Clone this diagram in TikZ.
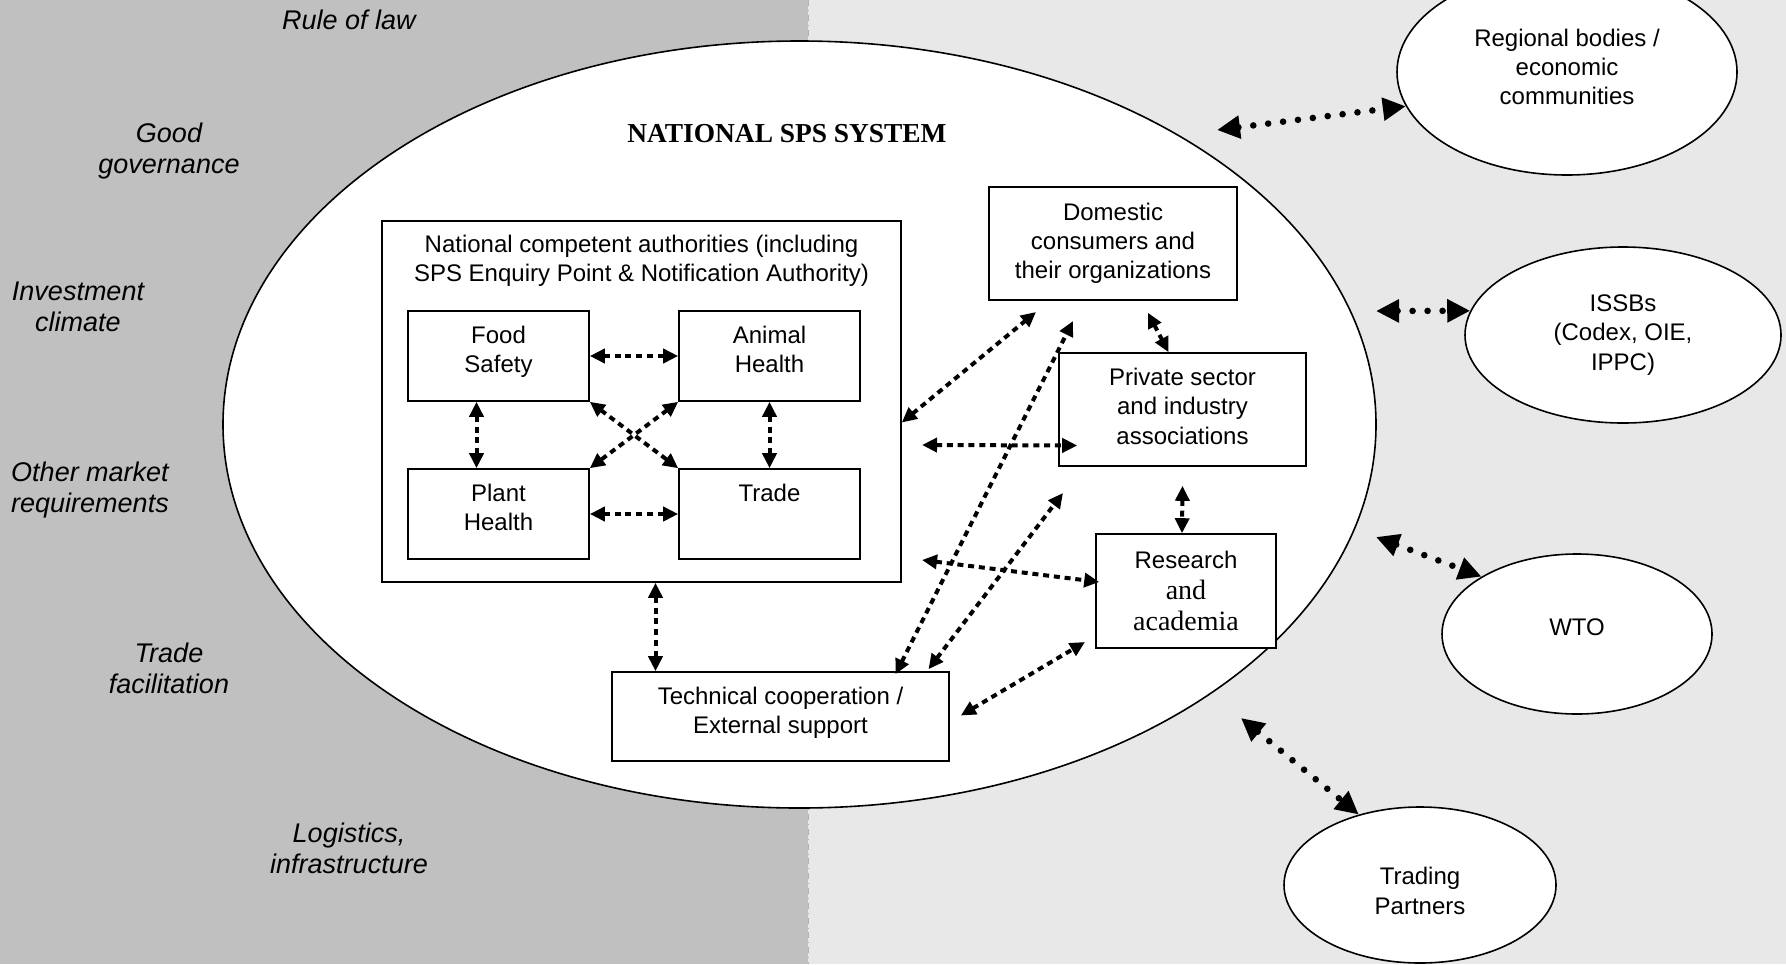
\documentclass[tikz,border=0pt]{standalone}
\usepackage{fontspec}
\setmainfont{Liberation Serif}
\setsansfont{Liberation Sans}
\usetikzlibrary{arrows.meta,shapes.geometric,positioning,calc}

\definecolor{leftgray}{RGB}{192,192,192}
\definecolor{rightgray}{RGB}{232,232,232}

\newcommand{\boxfont}{\sffamily\fontsize{12}{14.6}\selectfont}
\newcommand{\sidefont}{\sffamily\itshape\fontsize{13.5}{15.4}\selectfont}
\newcommand{\serifpart}{\rmfamily\fontsize{14}{15.7}\selectfont}
% invisible rules to move a text up (depth) or down (height) in its box
\newcommand{\deep}[1]{\rule[-#1]{0pt}{#1}}
\newcommand{\tall}[1]{\rule{0pt}{#1}}

\tikzset{
  box/.style={draw, line width=0.8pt, fill=white, inner sep=0pt, align=center, font=\boxfont},
  oval/.style={ellipse, draw, line width=0.8pt, fill=white, inner sep=0pt, align=center, font=\boxfont},
  side/.style={align=center, font=\sidefont},
  inlink/.style={line width=2pt, dash pattern=on 3pt off 2.4pt,
    {Triangle[length=7.5pt,width=7pt]}-{Triangle[length=7.5pt,width=7pt]}},
  outlink/.style={line width=3.3pt, line cap=round, dash pattern=on 0pt off 7.5pt,
    {Triangle[length=11.5pt,width=11pt]}-{Triangle[length=11.5pt,width=11pt]}}
}

\begin{document}
\begin{tikzpicture}[x=0.5pt, y=-0.5pt]
\useasboundingbox (0,0) rectangle (1786,964);
% background halves
\fill[leftgray] (0,0) rectangle (808,964);
\fill[rightgray] (808,0) rectangle (1786,964);
\draw[gray!60, dash dot] (808,0) -- (808,964);

% environment factors
\node[side] (law) at (349,20) {Rule of law};
\node[side] (gov) at (169,151) {Good\\governance};
\node[side] (invest) at (78,307) {Investment\\climate};
\node[side] (market) at (90,490) {Other market\\requirements};
\node[side] (facil) at (169,668) {Trade\\facilitation};
\node[side] (logist) at (349,848) {Logistics,\\infrastructure};

% national system
\node[oval, minimum width=576.5pt, minimum height=383.5pt] (sps) at (799.5,424.5) {};
\node[font=\rmfamily\bfseries\fontsize{13.7}{16}\selectfont] (title) at (787,134) {NATIONAL SPS SYSTEM};

\node[box, minimum width=259.5pt, minimum height=180.5pt] (nca) at (641.5,401.5) {};
\node[box, draw=none, fill=none, below=7pt of nca.north] (ncatitle)
  {National competent authorities (including\\SPS Enquiry Point \& Notification Authority)};
\node[box, minimum width=90.5pt, minimum height=45pt] (food) at (498.5,356) {Food\strut\\Safety\deep{8.5pt}};
\node[box, minimum width=90.5pt, minimum height=45pt] (animal) at (769.5,356) {Animal\strut\\Health\deep{8.5pt}};
\node[box, minimum width=90.5pt, minimum height=45pt] (plant) at (498.5,514) {Plant\strut\\Health\deep{8.5pt}};
\node[box, minimum width=90.5pt, minimum height=45pt] (trade) at (769.5,514) {Trade\strut\\\deep{8.5pt}};

\node[box, minimum width=124pt, minimum height=56.5pt] (domestic) at (1113,243.5) {Domestic\\consumers and\\their organizations};
\node[box, minimum width=123.5pt, minimum height=56.5pt] (private) at (1182.5,409.5) {Private sector\\and industry\\associations\deep{3.4pt}};
\node[box, minimum width=90pt, minimum height=57pt, font=\sffamily\fontsize{12}{15.7}\selectfont] (research) at (1186,591)
  {Research\\{\serifpart and}\\{\serifpart academia}};
\node[box, minimum width=168.5pt, minimum height=44.5pt] (tech) at (780.5,716.5) {Technical cooperation /\\External support\deep{6pt}};

% outside partners
\node[oval, minimum width=170pt, minimum height=103pt] (regional) at (1567,72) {Regional bodies /\\economic\\communities\deep{5pt}};
\node[oval, minimum width=158pt, minimum height=88pt] (issb) at (1623,335) {ISSBs\\(Codex, OIE,\\IPPC)};
\node[oval, minimum width=135pt, minimum height=80pt] (wto) at (1577,634) {WTO\deep{7pt}};
\node[oval, minimum width=136pt, minimum height=78pt] (trading) at (1420,885) {\tall{14.6pt}Trading\\Partners};

% free ends
\coordinate (c7) at (1036,312);
\coordinate (c8) at (922,445);
\coordinate (c9) at (922,560);
\coordinate (c10) at (1073,321);
\coordinate (c11) at (1063,493);
\coordinate (c12) at (1085,642);
\coordinate (c16) at (1217,130);
\coordinate (c17) at (1376,311);
\coordinate (c18) at (1376,537);
\coordinate (c19) at (1241,718);

% links inside
\draw[inlink] (food) -- (animal);
\draw[inlink] (plant) -- (trade);
\draw[inlink] ($(food.south)+(-22,0)$) -- ($(plant.north)+(-22,0)$);
\draw[inlink] (animal) -- (trade);
\draw[inlink] (food.south east) -- (trade.north west);
\draw[inlink] (animal.south west) -- (plant.north east);
\draw[inlink] ($(nca.south)+(14,0)$) -- ($(tech.north)+(-125,0)$);
\draw[inlink] ($(nca.east)+(0,21)$) -- (c7);
\draw[inlink] (c8) -- ($(private.west)+(19,36)$);
\draw[inlink] (c9) -- ($(research.west)+(4,-9)$);
\draw[inlink] ($(tech.north)+(115,3)$) -- (c10);
\draw[inlink] ($(tech.north)+(148,-2)$) -- (c11);
\draw[inlink] ($(tech.east)+(11,-1)$) -- (c12);
\draw[inlink] ($(domestic.south)+(35,12)$) -- ($(private.north)+(-14,0)$);
\draw[inlink] ($(private.south)+(0,19)$) -- ($(research.north)+(-4,0)$);

% links outside
\draw[outlink] (c16) -- (regional.192);
\draw[outlink] (c17) -- (issb.171);
\draw[outlink] (c18) -- (wto.149);
\draw[outlink] (c19) -- (trading.131);
\end{tikzpicture}
\end{document}
